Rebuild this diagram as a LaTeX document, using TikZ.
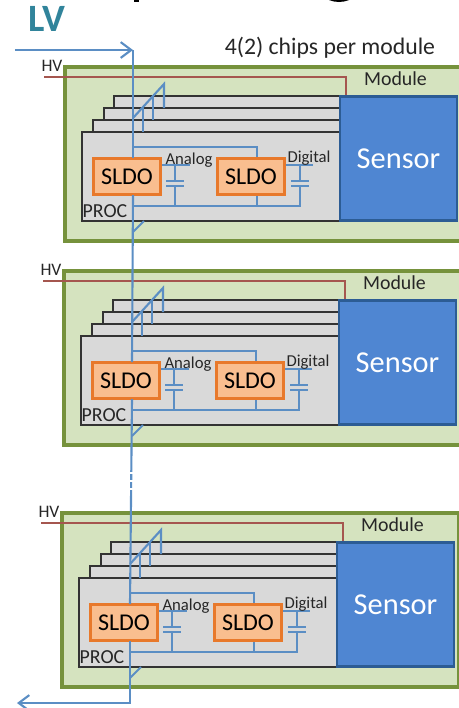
\documentclass[tikz,border=0pt]{standalone}
\usepackage{fontspec}
\setmainfont{Carlito}
\usetikzlibrary{arrows.meta}
\definecolor{modgreen}{HTML}{D5E3BF}
\definecolor{modedge}{HTML}{76923C}
\definecolor{chipgray}{HTML}{D9D9D9}
\definecolor{chipedge}{HTML}{333333}
\definecolor{sldofill}{HTML}{F9BE8F}
\definecolor{sldoedge}{HTML}{E8792B}
\definecolor{sensorblue}{HTML}{4F86D2}
\definecolor{sensoredge}{HTML}{2C5C94}
\definecolor{lvblue}{HTML}{5B8EC4}
\definecolor{hvred}{HTML}{A5564F}
\definecolor{lvteal}{HTML}{31849B}
\tikzset{
  modbox/.style={draw=modedge, fill=modgreen, line width=1.9pt},
  chipbox/.style={draw=chipedge, fill=chipgray, line width=1.1pt},
  sldobox/.style={draw=sldoedge, fill=sldofill, line width=2pt, minimum width=67\unitlen, minimum height=36\unitlen, inner sep=0pt, font=\fontsize{13.7}{14}\selectfont},
  sensorbox/.style={draw=sensoredge, fill=sensorblue, line width=1.4pt, minimum width=117\unitlen, minimum height=124\unitlen, inner sep=0pt, text=white, font=\fontsize{17.3}{18}\selectfont},
  lvline/.style={draw=lvblue, line width=1.2pt},
  hvline/.style={draw=hvred, line width=0.7pt},
  smalltxt/.style={inner sep=0pt, text=black!85, font=\fontsize{9.5}{10}\selectfont},
  modtxt/.style={inner sep=0pt, text=black!85, font=\fontsize{11.3}{12}\selectfont},
  hvtxt/.style={inner sep=0pt, text=black!85, font=\fontsize{10}{11}\selectfont},
}
\newcommand{\unitlen}{*0.02cm}
\begin{document}
\begin{tikzpicture}[x=0.02cm, y=-0.02cm, >={Straight Barb[length=6pt, width=9pt]}]
  \useasboundingbox (0,0) rectangle (458,708);
  % cut off title
  \fill[black] (134,0) rectangle (139,2);
  \fill[black] (329,0) to[bend right=20] (349,0) -- cycle;

  \node[inner sep=0pt, text=lvteal, font=\fontsize{22}{24}\selectfont\bfseries] (lvlabel) at (47,19) {LV};
  \node[inner sep=0pt, text=black!85, font=\fontsize{13.5}{14}\selectfont] (chipslabel) at (330,48) {4(2) chips per module};

  \foreach \name/\dx/\dy in {a/0/0, b/-1/204, c/-3/446} {
    \begin{scope}[shift={(\dx,\dy)}]
      \draw[modbox] (65,67) rectangle (462,241);
      \node[modtxt] (module\name) at (395.5,79) {Module};
      \node[hvtxt] (hv\name) at (52,66) {HV};
      \draw[hvline] (44,77) -- (346,77) -- (346,96);

      % chips behind the front one
      \draw[chipbox] (114,96) rectangle (340,120);
      \draw[chipbox] (104,108) rectangle (340,132);
      \draw[chipbox] (93,120) rectangle (340,140);
      \draw[chipbox] (82,132) rectangle (340,221);
      \node[sensorbox] (sensor\name) at (398.5,158.5) {Sensor};

      \draw[lvline] (133,118) -- (164,84) -- (164,108);
      \draw[lvline] (153,95) -- (153,120);
      \draw[lvline] (143,107) -- (143,132);
      \draw[lvline] (133,232) -- (144,221);

      % supply lines on the front chip
      \coordinate (top\name) at (133,147);
      \coordinate (low\name) at (133,206);
      \node[sldobox] (sldoA\name) at (127,176.5) {SLDO};
      \node[sldobox] (sldoD\name) at (251,176.5) {SLDO};
      \draw[lvline] (top\name) -- (257,147) -- (sldoD\name.north -| 257,0);
      \draw[lvline] (low\name) -- (300,206) -- (300,186);
      \draw[lvline] (sldoD\name.south -| 257,0) -- (257,206);
      \draw[lvline] (175,206) -- (175,186);
      \draw[lvline] (166,186) -- (184,186);
      \draw[lvline] (166,181) -- (184,181);
      \draw[lvline] (175,181) -- (175,165);
      \draw[lvline] (sldoA\name.east |- 0,165) -- (190,165);
      \draw[lvline] (291,186) -- (309,186);
      \draw[lvline] (291,181) -- (309,181);
      \draw[lvline] (300,181) -- (300,165);
      \draw[lvline] (sldoD\name.east |- 0,165) -- (313,165);
      \node[smalltxt] (analog\name) at (189,160) {Analog};
      \node[smalltxt] (digital\name) at (309,158) {Digital};
      \node[modtxt] (proc\name) at (105,211) {PROC};
    \end{scope}
  }

  % LV chain, passes behind the first SLDO of each module
  \coordinate (lvin) at (15,50);
  \coordinate (lvtop) at (133,50);
  \coordinate (lvbot) at (130,703);
  \coordinate (lvout) at (17,703);
  \draw[lvline, ->] (lvin) -- (lvtop);
  \draw[lvline] (lvtop) -- (133,158);
  \draw[lvline] (133,195) -- (132,362);
  \draw[lvline] (132,399) -- (130,604);
  \draw[lvline, ->] (130,641) -- (lvbot) -- (lvout);
  \foreach \ypos in {473,481,489} {
    \draw[white, line width=1.2pt] (128,\ypos) -- (135,\ypos);
  }
\end{tikzpicture}
\end{document}
